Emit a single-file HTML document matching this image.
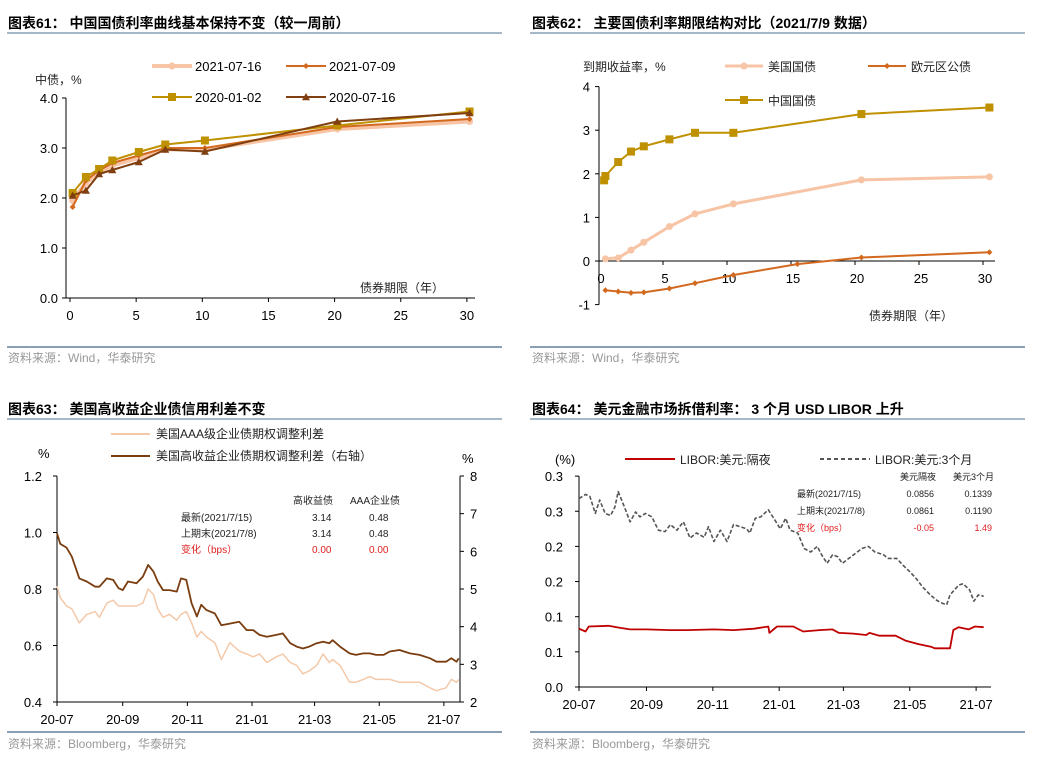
<!DOCTYPE html>
<html><head><meta charset="utf-8">
<style>
html,body{margin:0;padding:0;background:#fff;}
svg{display:block;font-family:"Liberation Sans","Noto Sans CJK SC",sans-serif;}
.t{font-size:14px;font-weight:bold;fill:#000;}
.tk{font-size:13px;fill:#000;}
.sm{font-size:12px;fill:#222;}
.src{font-size:12px;fill:#999;}
.tb{font-size:10px;fill:#222;}
</style></head>
<body>
<svg id="c" width="1039" height="766" viewBox="0 0 1039 766" xmlns="http://www.w3.org/2000/svg">
<g>
<text class="t" x="8" y="28">图表61：  中国国债利率曲线基本保持不变（较一周前）</text>
<line x1="7" y1="33" x2="502" y2="33" stroke="#8aa0b5" stroke-width="1.5"/>
<line x1="7" y1="347" x2="502" y2="347" stroke="#8aa0b5" stroke-width="2"/>
<text class="src" x="8" y="362">资料来源：Wind，华泰研究</text>
<text class="sm" x="35" y="84">中债，%</text>
<text class="sm" x="360" y="292">债券期限（年）</text>
</g>
<g>
<text class="t" x="532" y="28">图表62：  主要国债利率期限结构对比（2021/7/9 数据）</text>
<line x1="530" y1="33" x2="1025" y2="33" stroke="#8aa0b5" stroke-width="1.5"/>
<line x1="530" y1="347" x2="1025" y2="347" stroke="#8aa0b5" stroke-width="2"/>
<text class="src" x="532" y="362">资料来源：Wind，华泰研究</text>
<text class="sm" x="583" y="71">到期收益率，%</text>
<text class="sm" x="869" y="320">债券期限（年）</text>
</g>
<g>
<text class="t" x="8" y="414">图表63：  美国高收益企业债信用利差不变</text>
<line x1="7" y1="419" x2="502" y2="419" stroke="#8aa0b5" stroke-width="1.5"/>
<line x1="7" y1="732" x2="502" y2="732" stroke="#8aa0b5" stroke-width="2"/>
<text class="src" x="8" y="748">资料来源：Bloomberg，华泰研究</text>
<text class="tk" x="38" y="458">%</text>
<text class="tk" x="462" y="463">%</text>
<line x1="111" y1="434" x2="150" y2="434" stroke="#f4c9aa" stroke-width="2"/>
<text class="sm" x="156" y="438">美国AAA级企业债期权调整利差</text>
<line x1="111" y1="456" x2="150" y2="456" stroke="#7a3d10" stroke-width="2"/>
<text class="sm" x="156" y="460">美国高收益企业债期权调整利差（右轴）</text>
<g class="tb">
<text x="293" y="504">高收益债</text><text x="350" y="504">AAA企业债</text>
<text x="181" y="521">最新(2021/7/15)</text><text x="312" y="521">3.14</text><text x="369" y="521">0.48</text>
<text x="181" y="537">上期末(2021/7/8)</text><text x="312" y="537">3.14</text><text x="369" y="537">0.48</text>
<text x="181" y="553" style="fill:#e02020">变化（bps）</text><text x="312" y="553" style="fill:#e02020">0.00</text><text x="369" y="553" style="fill:#e02020">0.00</text>
</g>
</g>
<g>
<text class="t" x="532" y="414">图表64：  美元金融市场拆借利率：  3 个月 USD LIBOR 上升</text>
<line x1="530" y1="419" x2="1025" y2="419" stroke="#8aa0b5" stroke-width="1.5"/>
<line x1="530" y1="732" x2="1025" y2="732" stroke="#8aa0b5" stroke-width="2"/>
<text class="src" x="532" y="748">资料来源：Bloomberg，华泰研究</text>
<text class="tk" x="555" y="464">(%)</text>
<line x1="625" y1="459" x2="675" y2="459" stroke="#c00000" stroke-width="2"/>
<text class="sm" x="680" y="464">LIBOR:美元:隔夜</text>
<line x1="820" y1="459" x2="870" y2="459" stroke="#555" stroke-width="2" stroke-dasharray="4,3"/>
<text class="sm" x="875" y="464">LIBOR:美元:3个月</text>
<g class="tb" style="font-size:9px">
<text x="900" y="480">美元隔夜</text><text x="953" y="480">美元3个月</text>
<text x="797" y="497">最新(2021/7/15)</text><text x="934" y="497" text-anchor="end">0.0856</text><text x="992" y="497" text-anchor="end">0.1339</text>
<text x="797" y="514">上期末(2021/7/8)</text><text x="934" y="514" text-anchor="end">0.0861</text><text x="992" y="514" text-anchor="end">0.1190</text>
<text x="797" y="531" style="fill:#e02020">变化（bps）</text><text x="934" y="531" text-anchor="end" style="fill:#e02020">-0.05</text><text x="992" y="531" text-anchor="end" style="fill:#e02020">1.49</text>
</g>
</g>
</svg>
<script>
// ---- Panel 61 data ----
const p61Mat = [0.2, 1.2, 2.2, 3.2, 5.2, 7.2, 10.2, 20.2, 30.2];
const p61S1 = [1.95, 2.30, 2.50, 2.65, 2.80, 2.97, 2.97, 3.38, 3.53];
const p61S2 = [1.82, 2.35, 2.55, 2.70, 2.85, 3.00, 3.00, 3.42, 3.58];
const p61S3 = [2.10, 2.42, 2.58, 2.75, 2.92, 3.07, 3.15, 3.45, 3.73];
const p61S4 = [2.05, 2.15, 2.48, 2.56, 2.72, 2.97, 2.93, 3.53, 3.70];
const p61Labels = ["2021-07-16", "2021-07-09", "2020-01-02", "2020-07-16"];
const p61YTicks = ["0.0", "1.0", "2.0", "3.0", "4.0"];
const p61XTicks = [0, 5, 10, 15, 20, 25, 30];
// ---- Panel 62 data ----
const p62UsMat = [0.5, 1.5, 2.5, 3.5, 5.5, 7.5, 10.5, 20.5, 30.5];
const p62Us = [0.05, 0.07, 0.25, 0.43, 0.79, 1.08, 1.31, 1.86, 1.93];
const p62EuMat = [0.5, 1.5, 2.5, 3.5, 5.5, 7.5, 10.5, 15.5, 20.5, 30.5];
const p62Eu = [-0.67, -0.70, -0.73, -0.72, -0.63, -0.51, -0.32, -0.07, 0.08, 0.20];
const p62CnMat = [0.4, 0.5, 1.5, 2.5, 3.5, 5.5, 7.5, 10.5, 20.5, 30.5];
const p62Cn = [1.85, 1.95, 2.27, 2.51, 2.63, 2.79, 2.94, 2.94, 3.37, 3.52];
const p62YTicks = [-1, 0, 1, 2, 3, 4];
const p62XTicks = [0, 5, 10, 15, 20, 25, 30];
// ---- Panel 63 data (days since 2020-07-01) ----
const p63Days = [0,3,9,14,21,28,36,40,47,53,58,62,67,75,81,86,91,95,100,106,113,117,122,127,132,136,141,149,155,163,172,179,185,191,198,207,213,220,226,232,238,245,251,257,260,267,276,282,289,295,301,308,314,323,333,342,352,358,367,372,377,379];
const p63HY = [6.48,6.2,6.1,5.86,5.28,5.2,5.06,5.06,5.28,5.24,5.02,4.97,5.2,5.15,5.33,5.64,5.46,5.2,4.97,4.97,4.93,5.28,5.24,4.62,4.27,4.58,4.44,4.35,4.04,4.08,4.13,3.91,3.91,3.78,3.73,3.78,3.82,3.56,3.47,3.42,3.47,3.56,3.6,3.56,3.64,3.47,3.29,3.25,3.29,3.29,3.25,3.25,3.34,3.38,3.29,3.25,3.16,3.07,3.07,3.16,3.07,3.16];
const p63AAA = [0.81,0.77,0.74,0.73,0.68,0.71,0.72,0.70,0.75,0.76,0.74,0.74,0.74,0.74,0.75,0.80,0.78,0.73,0.70,0.71,0.69,0.71,0.72,0.68,0.63,0.65,0.63,0.61,0.55,0.61,0.58,0.57,0.56,0.57,0.54,0.56,0.57,0.54,0.53,0.50,0.51,0.53,0.57,0.54,0.55,0.53,0.47,0.47,0.48,0.49,0.48,0.48,0.48,0.47,0.47,0.47,0.45,0.44,0.45,0.48,0.47,0.48];
const p63LTicks = ["0.4", "0.6", "0.8", "1.0", "1.2"];
const p63RTicks = [2, 3, 4, 5, 6, 7, 8];
const dateTickLabels = ["20-07", "20-09", "20-11", "21-01", "21-03", "21-05", "21-07"];
const dateTickDays = [0, 62, 123, 184, 243, 304, 365];
// ---- Panel 64 data ----
const p64Days3m = [0,6,10,15,19,24,29,33,36,41,47,52,56,61,67,73,79,84,90,96,102,108,115,119,124,130,136,142,148,154,157,162,167,174,179,185,190,194,201,207,213,219,223,228,233,238,242,248,254,260,266,272,280,284,292,298,304,310,316,323,329,334,338,341,349,353,359,363,367,372];
const p64ThreeM = [0.268,0.274,0.271,0.247,0.266,0.247,0.244,0.256,0.278,0.259,0.235,0.249,0.242,0.247,0.242,0.223,0.221,0.231,0.223,0.235,0.212,0.219,0.213,0.228,0.207,0.223,0.207,0.231,0.228,0.225,0.219,0.24,0.242,0.252,0.24,0.225,0.24,0.223,0.219,0.197,0.192,0.2,0.188,0.176,0.188,0.185,0.176,0.183,0.19,0.197,0.2,0.192,0.188,0.183,0.183,0.173,0.164,0.154,0.142,0.131,0.123,0.119,0.117,0.131,0.145,0.147,0.138,0.122,0.131,0.129];
const p64DaysON = [0,6,9,27,38,47,62,84,99,124,142,161,174,175,182,197,206,221,233,239,252,264,267,276,291,300,312,324,327,341,344,349,358,364,372];
const p64Overnight = [0.083,0.079,0.086,0.087,0.084,0.082,0.082,0.081,0.081,0.082,0.081,0.083,0.086,0.077,0.086,0.086,0.079,0.081,0.082,0.077,0.076,0.074,0.077,0.073,0.073,0.066,0.061,0.057,0.055,0.055,0.081,0.085,0.082,0.086,0.085];
const p64YTicks = ["0.0", "0.1", "0.1", "0.2", "0.2", "0.3", "0.3"];
const p64YTickVals = [0, 0.05, 0.1, 0.15, 0.2, 0.25, 0.3];

const NS = "http://www.w3.org/2000/svg";
const svg = document.getElementById("c");
function mk(tag, attrs, parent) {
  const e = document.createElementNS(NS, tag);
  for (const k in attrs) e.setAttribute(k, attrs[k]);
  (parent || svg).appendChild(e);
  return e;
}
function txt(x, y, s, cls, anchor) {
  const e = mk("text", {x: x, y: y, class: cls, "text-anchor": anchor || "start"});
  e.textContent = s;
  return e;
}
function poly(xs, ys, fx, fy, color, w, dash) {
  const d = xs.map((v, i) => (i ? "L" : "M") + fx(v).toFixed(1) + "," + fy(ys[i]).toFixed(1)).join(" ");
  const a = {d: d, fill: "none", stroke: color, "stroke-width": w, "stroke-linejoin": "round"};
  if (dash) a["stroke-dasharray"] = dash;
  return mk("path", a);
}
function marker(type, x, y, color, r) {
  let e;
  if (type === "circle") e = mk("circle", {cx: x, cy: y, r: r, fill: color});
  else if (type === "square") e = mk("rect", {x: x - r, y: y - r, width: 2 * r, height: 2 * r, fill: color});
  else if (type === "diamond") e = mk("path", {d: `M${x},${y - r}L${x + r},${y}L${x},${y + r}L${x - r},${y}Z`, fill: color});
  else e = mk("path", {d: `M${x},${y - r}L${x + r},${y + r * 0.8}L${x - r},${y + r * 0.8}Z`, fill: color});
  return e;
}

// ===== Panel 61 =====
const x61 = v => 70 + v * 13.23;
const y61 = v => 298 - v * 50;
let e;
e = mk("line", {x1: 66, y1: 98, x2: 66, y2: 298, stroke: "#000"});


e = mk("line", {x1: 66, y1: 298, x2: 475, y2: 298, stroke: "#000"});


p61YTicks.forEach((s, i) => {
  const y = y61(+s);
  mk("line", {x1: 62, y1: y, x2: 66, y2: y, stroke: "#000"});
  e = txt(58, y + 5, s, "tk", "end");
  
  
});
p61XTicks.forEach(v => {
  mk("line", {x1: x61(v), y1: 298, x2: x61(v), y2: 302, stroke: "#000"});
  e = txt(x61(v), 320, String(v), "tk", "middle");
  
  
});
const p61Series = [[p61S1, "#f7c4a5", 4, "circle", 3.5], [p61S2, "#d2691e", 2, "diamond", 3], [p61S3, "#bf9000", 2, "square", 4], [p61S4, "#7f3f10", 2, "triangle", 4]];
p61Series.forEach((s, k) => {
  e = poly(p61Mat, s[0], x61, y61, s[1], s[2]);
  
  
  p61Mat.forEach((m, i) => {
    e = marker(s[3], x61(m), y61(s[0][i]), s[1], s[4]);
    
    
  });
  const lx = k % 2 === 0 ? 152 : 286, ly = k < 2 ? 66 : 97;
  e = mk("line", {x1: lx, y1: ly, x2: lx + 40, y2: ly, stroke: s[1], "stroke-width": s[2]});
  
  
  marker(s[3], lx + 20, ly, s[1], s[4]);
  e = txt(lx + 43, ly + 5, p61Labels[k], "tk");
  
  
});

// ===== Panel 62 =====
const x62 = v => 599 + v * 12.8;
const y62 = v => 261 - v * 43.6;
e = mk("line", {x1: 599, y1: y62(4), x2: 599, y2: y62(-1), stroke: "#000"});


e = mk("line", {x1: 599, y1: y62(0), x2: 995, y2: y62(0), stroke: "#000"});


p62YTicks.forEach(v => {
  mk("line", {x1: 595, y1: y62(v), x2: 599, y2: y62(v), stroke: "#000"});
  e = txt(590, y62(v) + 5, String(v), "tk", "end");
  
  
});
p62XTicks.forEach(v => {
  mk("line", {x1: x62(v), y1: y62(0), x2: x62(v), y2: y62(0) + 4, stroke: "#000"});
  e = txt(x62(v) + 2, y62(0) + 22, String(v), "tk", "middle");
  
  
});
const p62Series = [[p62UsMat, p62Us, "#f7c4a5", 3, "circle", 3.5, "美国国债", 725, 66], [p62EuMat, p62Eu, "#d2691e", 2, "diamond", 3, "欧元区公债", 868, 66], [p62CnMat, p62Cn, "#bf9000", 2, "square", 4, "中国国债", 725, 100]];
p62Series.forEach(s => {
  e = poly(s[0], s[1], x62, y62, s[2], s[3]);
  
  
  s[0].forEach((m, i) => {
    e = marker(s[4], x62(m), y62(s[1][i]), s[2], s[5]);
    
    
  });
  e = mk("line", {x1: s[7], y1: s[8], x2: s[7] + 38, y2: s[8], stroke: s[2], "stroke-width": s[3]});
  
  
  marker(s[4], s[7] + 19, s[8], s[2], s[5]);
  e = txt(s[7] + 43, s[8] + 5, s[6], "sm");
  
  
});

// ===== Panel 63 =====
const x63 = d => 57 + d * 1.06;
const yL63 = v => 702 - (v - 0.4) * 282.5;
const yR63 = v => 702 - (v - 2) * 37.67;
e = mk("line", {x1: 57, y1: 476, x2: 57, y2: 702, stroke: "#000"});


e = mk("line", {x1: 460, y1: 476, x2: 460, y2: 702, stroke: "#000"});


e = mk("line", {x1: 57, y1: 702, x2: 460, y2: 702, stroke: "#000"});


p63LTicks.forEach(s => {
  const y = yL63(+s);
  mk("line", {x1: 53, y1: y, x2: 57, y2: y, stroke: "#000"});
  e = txt(42, y + 5, s, "tk", "end");
  
  
});
p63RTicks.forEach(v => {
  const y = yR63(v);
  mk("line", {x1: 460, y1: y, x2: 464, y2: y, stroke: "#000"});
  e = txt(470, y + 5, String(v), "tk");
  
  
});
dateTickDays.forEach((d, i) => {
  mk("line", {x1: x63(d), y1: 702, x2: x63(d), y2: 706, stroke: "#000"});
  e = txt(x63(d), 724, dateTickLabels[i], "tk", "middle");
  
  
});
e = poly(p63Days, p63AAA, x63, yL63, "#f4c9aa", 1.5);


e = poly(p63Days, p63HY, x63, yR63, "#7a3d10", 1.8);



// ===== Panel 64 =====
const x64 = d => 579 + d * 1.088;
const y64 = v => 687 - v * 703;
e = mk("line", {x1: 579, y1: 476, x2: 579, y2: 687, stroke: "#000"});


e = mk("line", {x1: 579, y1: 687, x2: 991, y2: 687, stroke: "#000"});


p64YTickVals.forEach((v, i) => {
  mk("line", {x1: 575, y1: y64(v), x2: 579, y2: y64(v), stroke: "#000"});
  e = txt(563, y64(v) + 5, p64YTicks[i], "tk", "end");
  
  
});
dateTickDays.forEach((d, i) => {
  mk("line", {x1: x64(d), y1: 687, x2: x64(d), y2: 691, stroke: "#000"});
  e = txt(x64(d), 709, dateTickLabels[i], "tk", "middle");
  
  
});
e = poly(p64Days3m, p64ThreeM, x64, y64, "#555", 1.6, "4,2");


e = poly(p64DaysON, p64Overnight, x64, y64, "#c00000", 1.8);


</script>
</body></html>
